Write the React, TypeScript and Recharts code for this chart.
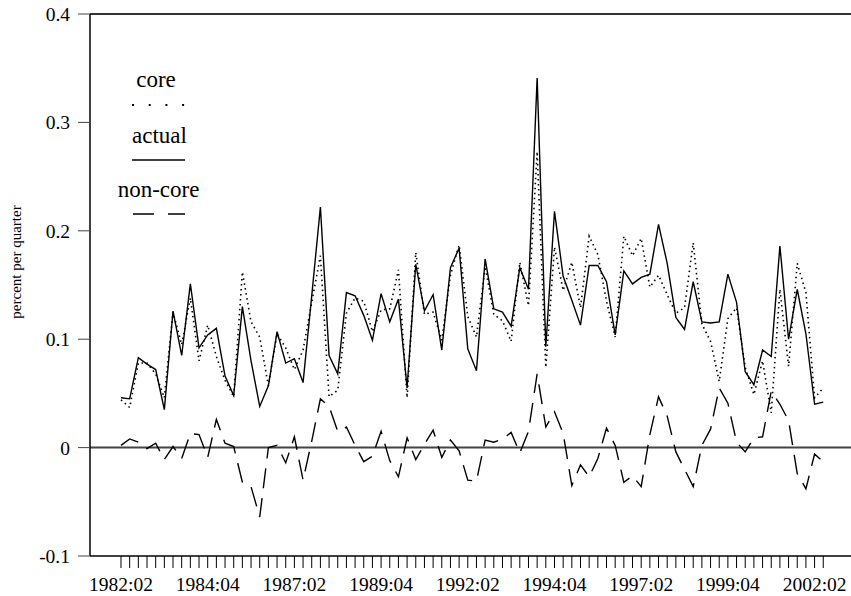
import { LineChart, Line, XAxis, YAxis, ReferenceLine } from 'recharts';

// quarterly, 1982:02 onwards (82 obs)
const tickLabels = ['1982:02', '1984:04', '1987:02', '1989:04', '1992:02', '1994:04', '1997:02', '1999:04', '2002:02'];

const actual = [
  0.046, 0.045, 0.083, 0.077, 0.072, 0.035, 0.126, 0.085, 0.151, 0.092,
  0.104, 0.110, 0.066, 0.048, 0.130, 0.080, 0.038, 0.057, 0.107, 0.078,
  0.082, 0.060, 0.140, 0.222, 0.085, 0.068, 0.143, 0.140, 0.122, 0.099,
  0.142, 0.116, 0.137, 0.055, 0.169, 0.126, 0.141, 0.090, 0.166, 0.184,
  0.091, 0.071, 0.174, 0.128, 0.125, 0.112, 0.166, 0.146, 0.341, 0.093,
  0.218, 0.158, 0.136, 0.113, 0.168, 0.168, 0.153, 0.104, 0.163, 0.151,
  0.157, 0.160, 0.206, 0.170, 0.120, 0.109, 0.153, 0.116, 0.115, 0.116,
  0.160, 0.134, 0.070, 0.058, 0.090, 0.084, 0.186, 0.100, 0.146, 0.105,
  0.040, 0.042,
];

const core = [
  0.044, 0.037, 0.078, 0.078, 0.068, 0.046, 0.125, 0.095, 0.138, 0.080,
  0.113, 0.084, 0.062, 0.047, 0.162, 0.116, 0.102, 0.057, 0.105, 0.092,
  0.072, 0.090, 0.134, 0.177, 0.047, 0.053, 0.124, 0.138, 0.135, 0.107,
  0.127, 0.128, 0.164, 0.046, 0.180, 0.123, 0.125, 0.099, 0.159, 0.187,
  0.121, 0.102, 0.167, 0.123, 0.117, 0.098, 0.171, 0.131, 0.273, 0.074,
  0.185, 0.145, 0.171, 0.129, 0.195, 0.178, 0.135, 0.102, 0.195, 0.177,
  0.193, 0.148, 0.159, 0.141, 0.124, 0.129, 0.189, 0.114, 0.098, 0.061,
  0.119, 0.129, 0.074, 0.049, 0.080, 0.032, 0.146, 0.075, 0.170, 0.143,
  0.046, 0.055,
];

const nonCore = [
  0.002, 0.008, 0.005, -0.001, 0.004, -0.011, 0.001, -0.010, 0.013, 0.012,
  -0.009, 0.026, 0.004, 0.001, -0.032, -0.036, -0.064, 0.000, 0.002, -0.014,
  0.010, -0.030, 0.006, 0.045, 0.038, 0.015, 0.019, 0.002, -0.013, -0.008,
  0.015, -0.012, -0.027, 0.009, -0.011, 0.003, 0.016, -0.009, 0.007, -0.003,
  -0.030, -0.031, 0.007, 0.005, 0.008, 0.014, -0.005, 0.015, 0.068, 0.019,
  0.033, 0.013, -0.035, -0.016, -0.027, -0.010, 0.018, 0.002, -0.032, -0.026,
  -0.036, 0.012, 0.047, 0.029, -0.004, -0.020, -0.036, 0.002, 0.017, 0.055,
  0.041, 0.005, -0.004, 0.009, 0.010, 0.052, 0.040, 0.025, -0.024, -0.038,
  -0.006, -0.013,
];

const yTicks = [-0.1, 0, 0.1, 0.2, 0.3, 0.4];

const data = actual.map((v, k) => ({ k, actual: v, core: core[k], nonCore: nonCore[k] }));
const xTicks = data.map((d) => d.k);

const FONT = 'Liberation Serif';

const fmtX = (k: number) => (k % 10 === 0 ? tickLabels[k / 10] ?? '' : '');
const fmtY = (v: number) => (v === 0 ? '0' : v.toFixed(1));

export default function App() {
  return (
    <div style={{ position: 'absolute', left: 0, top: 0, width: 851, height: 596, background: '#fff', fontFamily: FONT }}>
      <LineChart width={851} height={596} data={data} margin={{ top: 14, right: 0, bottom: 0, left: 0 }} style={{ fontFamily: FONT }}>
        <XAxis
          dataKey="k"
          type="number"
          domain={[-3.575, 84.2]}
          ticks={xTicks}
          interval={0}
          tickFormatter={fmtX}
          tickSize={12}
          tickMargin={9}
          height={40}
          axisLine={{ stroke: '#000', strokeWidth: 1.5 }}
          tickLine={{ stroke: '#000', strokeWidth: 1 }}
          tick={{ fill: '#000', fontSize: 19.5, fontFamily: FONT, style: { fontFamily: FONT } }}
        />
        <YAxis
          type="number"
          domain={[-0.1, 0.4]}
          ticks={yTicks}
          interval={0}
          tickFormatter={fmtY}
          tickSize={12}
          tickMargin={8}
          width={90}
          axisLine={{ stroke: '#000', strokeWidth: 1.5 }}
          tickLine={{ stroke: '#444', strokeWidth: 1 }}
          tick={{ fill: '#000', fontSize: 19.5, fontFamily: FONT, style: { fontFamily: FONT } }}
        />
        <ReferenceLine y={0.4} stroke="#333" strokeWidth={2} />
        <ReferenceLine y={0} stroke="#444" strokeWidth={2} />
        <Line dataKey="nonCore" stroke="#000" strokeWidth={1.4} strokeDasharray="20 10" dot={false} isAnimationActive={false} />
        <Line dataKey="core" stroke="#000" strokeWidth={1.6} strokeDasharray="1.5 3.5" dot={false} isAnimationActive={false} />
        <Line dataKey="actual" stroke="#000" strokeWidth={1.4} dot={false} isAnimationActive={false} />
      </LineChart>
      <svg width={851} height={596} style={{ position: 'absolute', left: 0, top: 0, pointerEvents: 'none', fontFamily: FONT }}>
        <g fill="#000" textAnchor="middle">
          <text x={156} y={87} fontSize={23}>core</text>
          <line x1={132} x2={185} y1={105} y2={105} stroke="#000" strokeWidth={2} strokeDasharray="2 14.7" />
          <text x={159.5} y={143} fontSize={23}>actual</text>
          <line x1={132} x2={185} y1={160} y2={160} stroke="#000" strokeWidth={1.5} />
          <text x={158.5} y={197} fontSize={23}>non-core</text>
          <line x1={133} x2={185} y1={214} y2={214} stroke="#000" strokeWidth={1.5} strokeDasharray="21 14" />
          <text x={0} y={0} fontSize={15} transform="translate(21 262) rotate(-90)">percent per quarter</text>
        </g>
      </svg>
    </div>
  );
}
